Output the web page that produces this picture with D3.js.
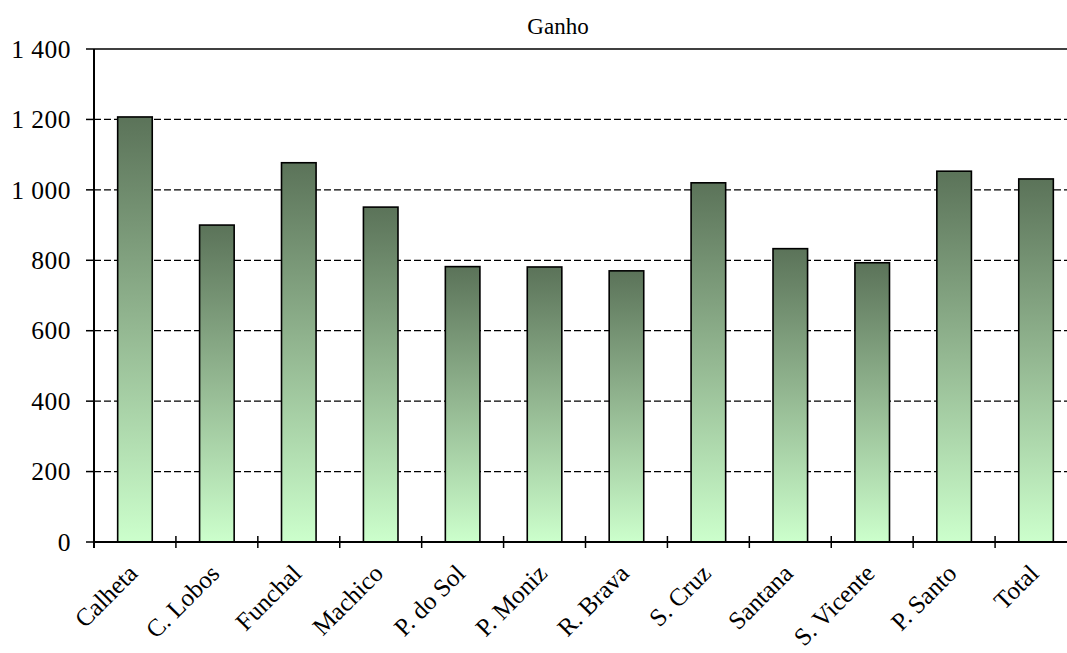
<!DOCTYPE html>
<html>
<head>
<meta charset="utf-8">
<script src="https://cdn.jsdelivr.net/npm/d3@7"></script>
<style>
  html, body { margin: 0; padding: 0; background: #fff; }
  svg { display: block; }
  text { font-family: "Liberation Serif", "Times New Roman", serif; fill: #000; }
</style>
</head>
<body>
<svg id="chart" width="1067" height="653"></svg>
<script>
const title = "Ganho";
const categories = ["Calheta", "C. Lobos", "Funchal", "Machico", "P. do Sol", "P. Moniz",
                    "R. Brava", "S. Cruz", "Santana", "S. Vicente", "P. Santo", "Total"];
const values = [1207, 900, 1077, 951, 782, 781, 770, 1020, 833, 793, 1053, 1031];
const yTicks = [0, 200, 400, 600, 800, 1000, 1200, 1400];

const svg = d3.select("#chart");
const pLeft = 94, pRight = 1077, pTop = 49, pBottom = 542;

const xStep = d3.scaleBand().domain(categories).range([pLeft, pRight]).padding(0);
const x = d3.scaleBand().domain(categories).range([pLeft, pRight]).paddingInner(0.578).paddingOuter(0.289);
const y = d3.scaleLinear().domain([0, 1400]).range([pBottom, pTop]);

const fmt = v => d3.format(",")(v).replace(/,/g, " ");

// gradient
const defs = svg.append("defs");
const grad = defs.append("linearGradient").attr("id", "barGrad")
  .attr("x1", 0).attr("y1", 0).attr("x2", 0).attr("y2", 1);
grad.append("stop").attr("offset", "0%").attr("stop-color", "#5b7359");
grad.append("stop").attr("offset", "50%").attr("stop-color", "#94b892");
grad.append("stop").attr("offset", "100%").attr("stop-color", "#ccffcc");

// gridlines
svg.append("g").selectAll("line").data(yTicks.filter(d => d > 0)).join("line")
  .attr("x1", pLeft).attr("x2", pRight)
  .attr("y1", d => y(d)).attr("y2", d => y(d))
  .attr("stroke", "#000").attr("stroke-width", 1.3)
  .attr("stroke-dasharray", d => d === 1400 ? null : "7,3");

// bars
svg.append("g").selectAll("rect").data(values).join("rect")
  .attr("x", (d, i) => x(categories[i]))
  .attr("width", x.bandwidth())
  .attr("y", d => y(d))
  .attr("height", d => y(0) - y(d))
  .attr("fill", "url(#barGrad)")
  .attr("stroke", "#000").attr("stroke-width", 1.6);

// y axis
const yAxis = svg.append("g");
yAxis.append("line").attr("x1", pLeft).attr("x2", pLeft).attr("y1", pTop).attr("y2", pBottom + 6)
  .attr("stroke", "#000").attr("stroke-width", 2);
yAxis.selectAll("line.tick").data(yTicks).join("line").attr("class", "tick")
  .attr("x1", pLeft - 8).attr("x2", pLeft).attr("y1", d => y(d)).attr("y2", d => y(d))
  .attr("stroke", "#000").attr("stroke-width", 1.5);
yAxis.selectAll("text").data(yTicks).join("text")
  .attr("x", 71).attr("y", d => y(d)).attr("dy", "0.34em")
  .attr("text-anchor", "end").attr("font-size", 25.5)
  .attr("letter-spacing", 0.5)
  .text(fmt);

// x axis
const xAxis = svg.append("g");
xAxis.append("line").attr("x1", pLeft).attr("x2", pRight).attr("y1", pBottom).attr("y2", pBottom)
  .attr("stroke", "#000").attr("stroke-width", 2);
xAxis.selectAll("line.tick").data(categories).join("line").attr("class", "tick")
  .attr("x1", d => xStep(d)).attr("x2", d => xStep(d))
  .attr("y1", pBottom - 6).attr("y2", pBottom + 6)
  .attr("stroke", "#000").attr("stroke-width", 1.5);
xAxis.selectAll("text").data(categories).join("text")
  .attr("transform", d => `translate(${x(d) + x.bandwidth() / 2 + 4},${575}) rotate(-45)`)
  .attr("text-anchor", "end").attr("font-size", 25)
  .text(d => d);

// title
svg.append("text").attr("x", 558).attr("y", 34).attr("text-anchor", "middle")
  .attr("font-size", 23).text(title);
</script>
</body>
</html>
